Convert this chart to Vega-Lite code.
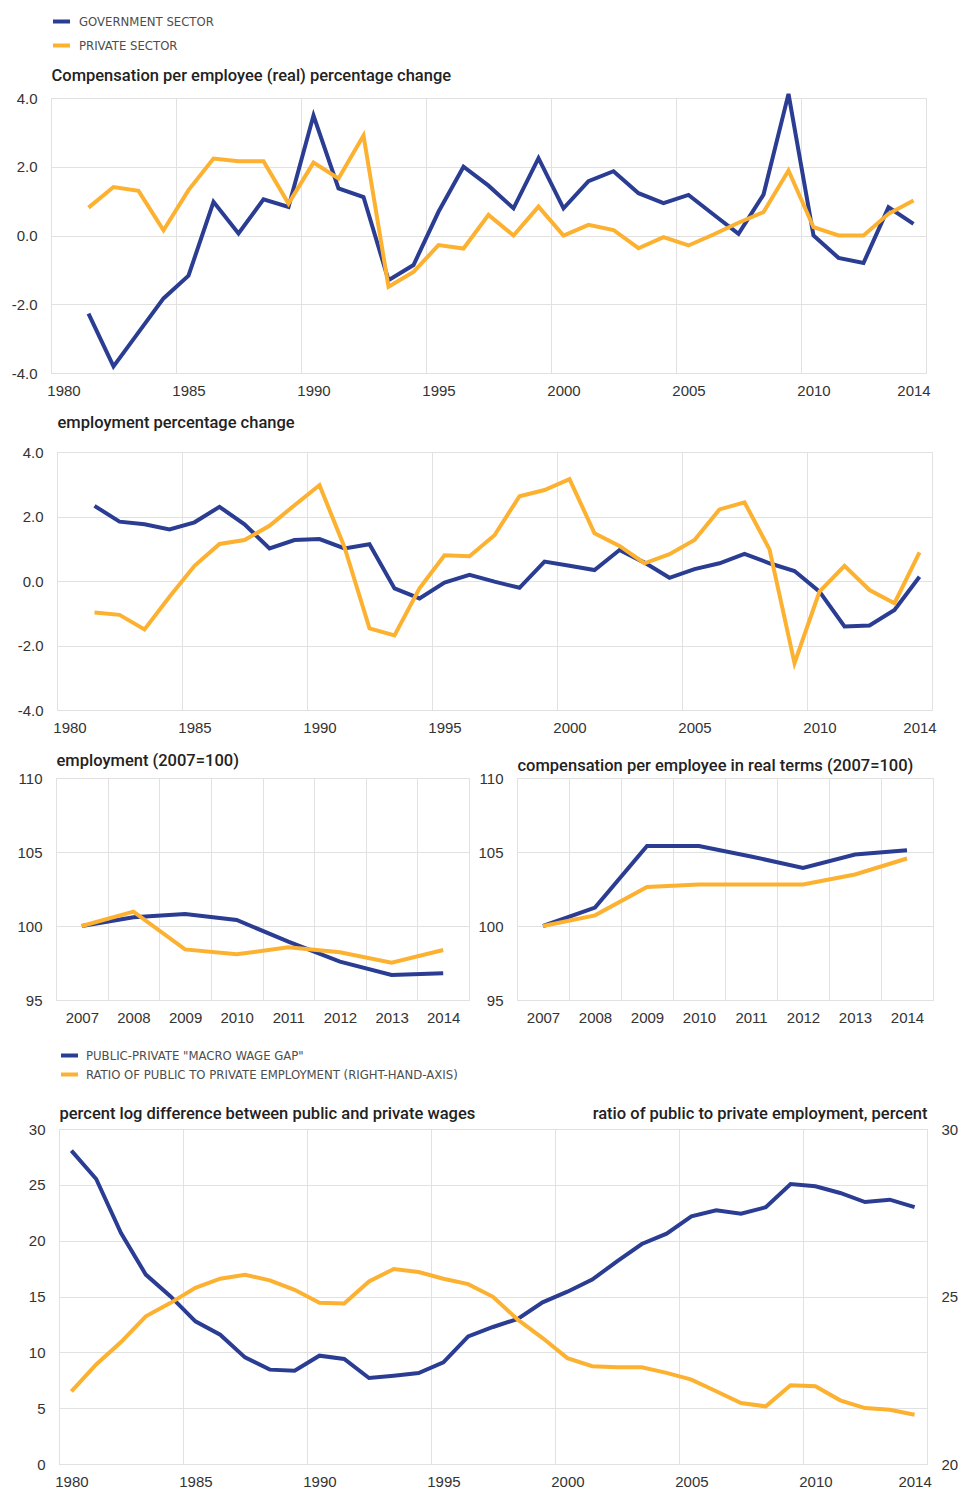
{
  "$schema": "https://vega.github.io/schema/vega-lite/v6.json",
  "padding": {"left": 10, "top": 10, "right": 4, "bottom": 0},
  "autosize": {"type": "pad"},
  "bounds": "flush",
  "spacing": 79,
  "resolve": {"scale": {"color": "independent"}, "legend": {"color": "independent"}},
  "config": {
    "view": {"stroke": "#e1e1e1", "strokeWidth": 1},
    "axis": {
      "domain": false, "ticks": false, "tickSize": 0,
      "gridColor": "#e1e1e1", "gridWidth": 1,
      "labelFont": "Liberation Sans", "labelFontSize": 15, "labelColor": "#333333",
      "labelPadding": 14, "labelFlush": false, "labelOverlap": false,
      "titleFont": "Roboto", "titleFontSize": 16.5, "titleFontWeight": 500, "titleColor": "#222222",
      "titleAngle": 0, "titleAlign": "left", "titleBaseline": "alphabetic", "titleX": 0
    },
    "axisX": {"labelPadding": 10},
    "line": {"strokeWidth": 4}
  },
  "datasets": {
    "comp": [
      {"year": 1981, "sector": "GOVERNMENT SECTOR", "value": -2.27},
      {"year": 1982, "sector": "GOVERNMENT SECTOR", "value": -3.81},
      {"year": 1983, "sector": "GOVERNMENT SECTOR", "value": -2.82},
      {"year": 1984, "sector": "GOVERNMENT SECTOR", "value": -1.83},
      {"year": 1985, "sector": "GOVERNMENT SECTOR", "value": -1.17},
      {"year": 1986, "sector": "GOVERNMENT SECTOR", "value": 0.98},
      {"year": 1987, "sector": "GOVERNMENT SECTOR", "value": 0.06},
      {"year": 1988, "sector": "GOVERNMENT SECTOR", "value": 1.05},
      {"year": 1989, "sector": "GOVERNMENT SECTOR", "value": 0.83},
      {"year": 1990, "sector": "GOVERNMENT SECTOR", "value": 3.49},
      {"year": 1991, "sector": "GOVERNMENT SECTOR", "value": 1.37},
      {"year": 1992, "sector": "GOVERNMENT SECTOR", "value": 1.12},
      {"year": 1993, "sector": "GOVERNMENT SECTOR", "value": -1.3},
      {"year": 1994, "sector": "GOVERNMENT SECTOR", "value": -0.86},
      {"year": 1995, "sector": "GOVERNMENT SECTOR", "value": 0.69},
      {"year": 1996, "sector": "GOVERNMENT SECTOR", "value": 2.0},
      {"year": 1997, "sector": "GOVERNMENT SECTOR", "value": 1.45},
      {"year": 1998, "sector": "GOVERNMENT SECTOR", "value": 0.79},
      {"year": 1999, "sector": "GOVERNMENT SECTOR", "value": 2.25},
      {"year": 2000, "sector": "GOVERNMENT SECTOR", "value": 0.79},
      {"year": 2001, "sector": "GOVERNMENT SECTOR", "value": 1.58},
      {"year": 2002, "sector": "GOVERNMENT SECTOR", "value": 1.87},
      {"year": 2003, "sector": "GOVERNMENT SECTOR", "value": 1.23},
      {"year": 2004, "sector": "GOVERNMENT SECTOR", "value": 0.94},
      {"year": 2005, "sector": "GOVERNMENT SECTOR", "value": 1.18},
      {"year": 2006, "sector": "GOVERNMENT SECTOR", "value": 0.61},
      {"year": 2007, "sector": "GOVERNMENT SECTOR", "value": 0.05},
      {"year": 2008, "sector": "GOVERNMENT SECTOR", "value": 1.19},
      {"year": 2009, "sector": "GOVERNMENT SECTOR", "value": 4.12},
      {"year": 2010, "sector": "GOVERNMENT SECTOR", "value": 0.0},
      {"year": 2011, "sector": "GOVERNMENT SECTOR", "value": -0.65},
      {"year": 2012, "sector": "GOVERNMENT SECTOR", "value": -0.8},
      {"year": 2013, "sector": "GOVERNMENT SECTOR", "value": 0.82},
      {"year": 2014, "sector": "GOVERNMENT SECTOR", "value": 0.34},
      {"year": 1981, "sector": "PRIVATE SECTOR", "value": 0.81},
      {"year": 1982, "sector": "PRIVATE SECTOR", "value": 1.41},
      {"year": 1983, "sector": "PRIVATE SECTOR", "value": 1.3},
      {"year": 1984, "sector": "PRIVATE SECTOR", "value": 0.15},
      {"year": 1985, "sector": "PRIVATE SECTOR", "value": 1.32},
      {"year": 1986, "sector": "PRIVATE SECTOR", "value": 2.24},
      {"year": 1987, "sector": "PRIVATE SECTOR", "value": 2.16},
      {"year": 1988, "sector": "PRIVATE SECTOR", "value": 2.16},
      {"year": 1989, "sector": "PRIVATE SECTOR", "value": 0.93},
      {"year": 1990, "sector": "PRIVATE SECTOR", "value": 2.12},
      {"year": 1991, "sector": "PRIVATE SECTOR", "value": 1.66},
      {"year": 1992, "sector": "PRIVATE SECTOR", "value": 2.91},
      {"year": 1993, "sector": "PRIVATE SECTOR", "value": -1.49},
      {"year": 1994, "sector": "PRIVATE SECTOR", "value": -1.06},
      {"year": 1995, "sector": "PRIVATE SECTOR", "value": -0.28},
      {"year": 1996, "sector": "PRIVATE SECTOR", "value": -0.38},
      {"year": 1997, "sector": "PRIVATE SECTOR", "value": 0.6},
      {"year": 1998, "sector": "PRIVATE SECTOR", "value": 0.0},
      {"year": 1999, "sector": "PRIVATE SECTOR", "value": 0.84},
      {"year": 2000, "sector": "PRIVATE SECTOR", "value": 0.0},
      {"year": 2001, "sector": "PRIVATE SECTOR", "value": 0.31},
      {"year": 2002, "sector": "PRIVATE SECTOR", "value": 0.16},
      {"year": 2003, "sector": "PRIVATE SECTOR", "value": -0.37},
      {"year": 2004, "sector": "PRIVATE SECTOR", "value": -0.05},
      {"year": 2005, "sector": "PRIVATE SECTOR", "value": -0.29},
      {"year": 2006, "sector": "PRIVATE SECTOR", "value": 0.03},
      {"year": 2007, "sector": "PRIVATE SECTOR", "value": 0.37},
      {"year": 2008, "sector": "PRIVATE SECTOR", "value": 0.68},
      {"year": 2009, "sector": "PRIVATE SECTOR", "value": 1.89},
      {"year": 2010, "sector": "PRIVATE SECTOR", "value": 0.24},
      {"year": 2011, "sector": "PRIVATE SECTOR", "value": 0.0},
      {"year": 2012, "sector": "PRIVATE SECTOR", "value": 0.0},
      {"year": 2013, "sector": "PRIVATE SECTOR", "value": 0.63},
      {"year": 2014, "sector": "PRIVATE SECTOR", "value": 1.02}
    ],
    "emp": [
      {"year": 1981, "sector": "GOVERNMENT SECTOR", "value": 2.33},
      {"year": 1982, "sector": "GOVERNMENT SECTOR", "value": 1.84},
      {"year": 1983, "sector": "GOVERNMENT SECTOR", "value": 1.76},
      {"year": 1984, "sector": "GOVERNMENT SECTOR", "value": 1.6},
      {"year": 1985, "sector": "GOVERNMENT SECTOR", "value": 1.82},
      {"year": 1986, "sector": "GOVERNMENT SECTOR", "value": 2.3},
      {"year": 1987, "sector": "GOVERNMENT SECTOR", "value": 1.76},
      {"year": 1988, "sector": "GOVERNMENT SECTOR", "value": 1.01},
      {"year": 1989, "sector": "GOVERNMENT SECTOR", "value": 1.27},
      {"year": 1990, "sector": "GOVERNMENT SECTOR", "value": 1.3},
      {"year": 1991, "sector": "GOVERNMENT SECTOR", "value": 1.01},
      {"year": 1992, "sector": "GOVERNMENT SECTOR", "value": 1.14},
      {"year": 1993, "sector": "GOVERNMENT SECTOR", "value": -0.23},
      {"year": 1994, "sector": "GOVERNMENT SECTOR", "value": -0.54},
      {"year": 1995, "sector": "GOVERNMENT SECTOR", "value": -0.05},
      {"year": 1996, "sector": "GOVERNMENT SECTOR", "value": 0.19},
      {"year": 1997, "sector": "GOVERNMENT SECTOR", "value": -0.02},
      {"year": 1998, "sector": "GOVERNMENT SECTOR", "value": -0.21},
      {"year": 1999, "sector": "GOVERNMENT SECTOR", "value": 0.6},
      {"year": 2000, "sector": "GOVERNMENT SECTOR", "value": 0.47},
      {"year": 2001, "sector": "GOVERNMENT SECTOR", "value": 0.34},
      {"year": 2002, "sector": "GOVERNMENT SECTOR", "value": 0.96},
      {"year": 2003, "sector": "GOVERNMENT SECTOR", "value": 0.57},
      {"year": 2004, "sector": "GOVERNMENT SECTOR", "value": 0.1},
      {"year": 2005, "sector": "GOVERNMENT SECTOR", "value": 0.37},
      {"year": 2006, "sector": "GOVERNMENT SECTOR", "value": 0.55},
      {"year": 2007, "sector": "GOVERNMENT SECTOR", "value": 0.84},
      {"year": 2008, "sector": "GOVERNMENT SECTOR", "value": 0.55},
      {"year": 2009, "sector": "GOVERNMENT SECTOR", "value": 0.31},
      {"year": 2010, "sector": "GOVERNMENT SECTOR", "value": -0.33},
      {"year": 2011, "sector": "GOVERNMENT SECTOR", "value": -1.41},
      {"year": 2012, "sector": "GOVERNMENT SECTOR", "value": -1.38},
      {"year": 2013, "sector": "GOVERNMENT SECTOR", "value": -0.9},
      {"year": 2014, "sector": "GOVERNMENT SECTOR", "value": 0.13},
      {"year": 1981, "sector": "PRIVATE SECTOR", "value": -0.98},
      {"year": 1982, "sector": "PRIVATE SECTOR", "value": -1.05},
      {"year": 1983, "sector": "PRIVATE SECTOR", "value": -1.5},
      {"year": 1984, "sector": "PRIVATE SECTOR", "value": -0.49},
      {"year": 1985, "sector": "PRIVATE SECTOR", "value": 0.47},
      {"year": 1986, "sector": "PRIVATE SECTOR", "value": 1.15},
      {"year": 1987, "sector": "PRIVATE SECTOR", "value": 1.27},
      {"year": 1988, "sector": "PRIVATE SECTOR", "value": 1.71},
      {"year": 1989, "sector": "PRIVATE SECTOR", "value": 2.35},
      {"year": 1990, "sector": "PRIVATE SECTOR", "value": 2.97},
      {"year": 1991, "sector": "PRIVATE SECTOR", "value": 1.05},
      {"year": 1992, "sector": "PRIVATE SECTOR", "value": -1.47},
      {"year": 1993, "sector": "PRIVATE SECTOR", "value": -1.69},
      {"year": 1994, "sector": "PRIVATE SECTOR", "value": -0.23},
      {"year": 1995, "sector": "PRIVATE SECTOR", "value": 0.8},
      {"year": 1996, "sector": "PRIVATE SECTOR", "value": 0.77},
      {"year": 1997, "sector": "PRIVATE SECTOR", "value": 1.42},
      {"year": 1998, "sector": "PRIVATE SECTOR", "value": 2.63},
      {"year": 1999, "sector": "PRIVATE SECTOR", "value": 2.82},
      {"year": 2000, "sector": "PRIVATE SECTOR", "value": 3.16},
      {"year": 2001, "sector": "PRIVATE SECTOR", "value": 1.48},
      {"year": 2002, "sector": "PRIVATE SECTOR", "value": 1.09},
      {"year": 2003, "sector": "PRIVATE SECTOR", "value": 0.55},
      {"year": 2004, "sector": "PRIVATE SECTOR", "value": 0.83},
      {"year": 2005, "sector": "PRIVATE SECTOR", "value": 1.27},
      {"year": 2006, "sector": "PRIVATE SECTOR", "value": 2.22},
      {"year": 2007, "sector": "PRIVATE SECTOR", "value": 2.44},
      {"year": 2008, "sector": "PRIVATE SECTOR", "value": 0.98},
      {"year": 2009, "sector": "PRIVATE SECTOR", "value": -2.55},
      {"year": 2010, "sector": "PRIVATE SECTOR", "value": -0.33},
      {"year": 2011, "sector": "PRIVATE SECTOR", "value": 0.47},
      {"year": 2012, "sector": "PRIVATE SECTOR", "value": -0.28},
      {"year": 2013, "sector": "PRIVATE SECTOR", "value": -0.69},
      {"year": 2014, "sector": "PRIVATE SECTOR", "value": 0.89}
    ],
    "emp07": [
      {"year": 2007, "sector": "GOVERNMENT SECTOR", "value": 100.0},
      {"year": 2008, "sector": "GOVERNMENT SECTOR", "value": 100.59},
      {"year": 2009, "sector": "GOVERNMENT SECTOR", "value": 100.81},
      {"year": 2010, "sector": "GOVERNMENT SECTOR", "value": 100.41},
      {"year": 2011, "sector": "GOVERNMENT SECTOR", "value": 98.94},
      {"year": 2012, "sector": "GOVERNMENT SECTOR", "value": 97.59},
      {"year": 2013, "sector": "GOVERNMENT SECTOR", "value": 96.69},
      {"year": 2014, "sector": "GOVERNMENT SECTOR", "value": 96.8},
      {"year": 2007, "sector": "PRIVATE SECTOR", "value": 100.0},
      {"year": 2008, "sector": "PRIVATE SECTOR", "value": 100.97},
      {"year": 2009, "sector": "PRIVATE SECTOR", "value": 98.42},
      {"year": 2010, "sector": "PRIVATE SECTOR", "value": 98.09},
      {"year": 2011, "sector": "PRIVATE SECTOR", "value": 98.56},
      {"year": 2012, "sector": "PRIVATE SECTOR", "value": 98.22},
      {"year": 2013, "sector": "PRIVATE SECTOR", "value": 97.52},
      {"year": 2014, "sector": "PRIVATE SECTOR", "value": 98.38}
    ],
    "comp07": [
      {"year": 2007, "sector": "GOVERNMENT SECTOR", "value": 100.0},
      {"year": 2008, "sector": "GOVERNMENT SECTOR", "value": 101.24},
      {"year": 2009, "sector": "GOVERNMENT SECTOR", "value": 105.4},
      {"year": 2010, "sector": "GOVERNMENT SECTOR", "value": 105.4},
      {"year": 2011, "sector": "GOVERNMENT SECTOR", "value": 104.7},
      {"year": 2012, "sector": "GOVERNMENT SECTOR", "value": 103.93},
      {"year": 2013, "sector": "GOVERNMENT SECTOR", "value": 104.83},
      {"year": 2014, "sector": "GOVERNMENT SECTOR", "value": 105.12},
      {"year": 2007, "sector": "PRIVATE SECTOR", "value": 100.0},
      {"year": 2008, "sector": "PRIVATE SECTOR", "value": 100.72},
      {"year": 2009, "sector": "PRIVATE SECTOR", "value": 102.63},
      {"year": 2010, "sector": "PRIVATE SECTOR", "value": 102.81},
      {"year": 2011, "sector": "PRIVATE SECTOR", "value": 102.81},
      {"year": 2012, "sector": "PRIVATE SECTOR", "value": 102.81},
      {"year": 2013, "sector": "PRIVATE SECTOR", "value": 103.48},
      {"year": 2014, "sector": "PRIVATE SECTOR", "value": 104.56}
    ],
    "wagegap": [
      {"year": 1980, "series": "PUBLIC-PRIVATE \"MACRO WAGE GAP\"", "value": 28.06},
      {"year": 1981, "series": "PUBLIC-PRIVATE \"MACRO WAGE GAP\"", "value": 25.52},
      {"year": 1982, "series": "PUBLIC-PRIVATE \"MACRO WAGE GAP\"", "value": 20.69},
      {"year": 1983, "series": "PUBLIC-PRIVATE \"MACRO WAGE GAP\"", "value": 16.96},
      {"year": 1984, "series": "PUBLIC-PRIVATE \"MACRO WAGE GAP\"", "value": 15.01},
      {"year": 1985, "series": "PUBLIC-PRIVATE \"MACRO WAGE GAP\"", "value": 12.78},
      {"year": 1986, "series": "PUBLIC-PRIVATE \"MACRO WAGE GAP\"", "value": 11.58},
      {"year": 1987, "series": "PUBLIC-PRIVATE \"MACRO WAGE GAP\"", "value": 9.55},
      {"year": 1988, "series": "PUBLIC-PRIVATE \"MACRO WAGE GAP\"", "value": 8.45},
      {"year": 1989, "series": "PUBLIC-PRIVATE \"MACRO WAGE GAP\"", "value": 8.36},
      {"year": 1990, "series": "PUBLIC-PRIVATE \"MACRO WAGE GAP\"", "value": 9.7},
      {"year": 1991, "series": "PUBLIC-PRIVATE \"MACRO WAGE GAP\"", "value": 9.4},
      {"year": 1992, "series": "PUBLIC-PRIVATE \"MACRO WAGE GAP\"", "value": 7.7},
      {"year": 1993, "series": "PUBLIC-PRIVATE \"MACRO WAGE GAP\"", "value": 7.91},
      {"year": 1994, "series": "PUBLIC-PRIVATE \"MACRO WAGE GAP\"", "value": 8.15},
      {"year": 1995, "series": "PUBLIC-PRIVATE \"MACRO WAGE GAP\"", "value": 9.1},
      {"year": 1996, "series": "PUBLIC-PRIVATE \"MACRO WAGE GAP\"", "value": 11.43},
      {"year": 1997, "series": "PUBLIC-PRIVATE \"MACRO WAGE GAP\"", "value": 12.27},
      {"year": 1998, "series": "PUBLIC-PRIVATE \"MACRO WAGE GAP\"", "value": 12.99},
      {"year": 1999, "series": "PUBLIC-PRIVATE \"MACRO WAGE GAP\"", "value": 14.48},
      {"year": 2000, "series": "PUBLIC-PRIVATE \"MACRO WAGE GAP\"", "value": 15.43},
      {"year": 2001, "series": "PUBLIC-PRIVATE \"MACRO WAGE GAP\"", "value": 16.51},
      {"year": 2002, "series": "PUBLIC-PRIVATE \"MACRO WAGE GAP\"", "value": 18.15},
      {"year": 2003, "series": "PUBLIC-PRIVATE \"MACRO WAGE GAP\"", "value": 19.7},
      {"year": 2004, "series": "PUBLIC-PRIVATE \"MACRO WAGE GAP\"", "value": 20.63},
      {"year": 2005, "series": "PUBLIC-PRIVATE \"MACRO WAGE GAP\"", "value": 22.18},
      {"year": 2006, "series": "PUBLIC-PRIVATE \"MACRO WAGE GAP\"", "value": 22.72},
      {"year": 2007, "series": "PUBLIC-PRIVATE \"MACRO WAGE GAP\"", "value": 22.42},
      {"year": 2008, "series": "PUBLIC-PRIVATE \"MACRO WAGE GAP\"", "value": 22.99},
      {"year": 2009, "series": "PUBLIC-PRIVATE \"MACRO WAGE GAP\"", "value": 25.07},
      {"year": 2010, "series": "PUBLIC-PRIVATE \"MACRO WAGE GAP\"", "value": 24.87},
      {"year": 2011, "series": "PUBLIC-PRIVATE \"MACRO WAGE GAP\"", "value": 24.27},
      {"year": 2012, "series": "PUBLIC-PRIVATE \"MACRO WAGE GAP\"", "value": 23.46},
      {"year": 2013, "series": "PUBLIC-PRIVATE \"MACRO WAGE GAP\"", "value": 23.67},
      {"year": 2014, "series": "PUBLIC-PRIVATE \"MACRO WAGE GAP\"", "value": 23.01}
    ],
    "ratio": [
      {"year": 1980, "series": "RATIO OF PUBLIC TO PRIVATE EMPLOYMENT (RIGHT-HAND-AXIS)", "value": 22.17},
      {"year": 1981, "series": "RATIO OF PUBLIC TO PRIVATE EMPLOYMENT (RIGHT-HAND-AXIS)", "value": 22.97},
      {"year": 1982, "series": "RATIO OF PUBLIC TO PRIVATE EMPLOYMENT (RIGHT-HAND-AXIS)", "value": 23.64},
      {"year": 1983, "series": "RATIO OF PUBLIC TO PRIVATE EMPLOYMENT (RIGHT-HAND-AXIS)", "value": 24.41},
      {"year": 1984, "series": "RATIO OF PUBLIC TO PRIVATE EMPLOYMENT (RIGHT-HAND-AXIS)", "value": 24.81},
      {"year": 1985, "series": "RATIO OF PUBLIC TO PRIVATE EMPLOYMENT (RIGHT-HAND-AXIS)", "value": 25.26},
      {"year": 1986, "series": "RATIO OF PUBLIC TO PRIVATE EMPLOYMENT (RIGHT-HAND-AXIS)", "value": 25.53},
      {"year": 1987, "series": "RATIO OF PUBLIC TO PRIVATE EMPLOYMENT (RIGHT-HAND-AXIS)", "value": 25.65},
      {"year": 1988, "series": "RATIO OF PUBLIC TO PRIVATE EMPLOYMENT (RIGHT-HAND-AXIS)", "value": 25.48},
      {"year": 1989, "series": "RATIO OF PUBLIC TO PRIVATE EMPLOYMENT (RIGHT-HAND-AXIS)", "value": 25.2},
      {"year": 1990, "series": "RATIO OF PUBLIC TO PRIVATE EMPLOYMENT (RIGHT-HAND-AXIS)", "value": 24.81},
      {"year": 1991, "series": "RATIO OF PUBLIC TO PRIVATE EMPLOYMENT (RIGHT-HAND-AXIS)", "value": 24.79},
      {"year": 1992, "series": "RATIO OF PUBLIC TO PRIVATE EMPLOYMENT (RIGHT-HAND-AXIS)", "value": 25.45},
      {"year": 1993, "series": "RATIO OF PUBLIC TO PRIVATE EMPLOYMENT (RIGHT-HAND-AXIS)", "value": 25.82},
      {"year": 1994, "series": "RATIO OF PUBLIC TO PRIVATE EMPLOYMENT (RIGHT-HAND-AXIS)", "value": 25.73},
      {"year": 1995, "series": "RATIO OF PUBLIC TO PRIVATE EMPLOYMENT (RIGHT-HAND-AXIS)", "value": 25.53},
      {"year": 1996, "series": "RATIO OF PUBLIC TO PRIVATE EMPLOYMENT (RIGHT-HAND-AXIS)", "value": 25.37},
      {"year": 1997, "series": "RATIO OF PUBLIC TO PRIVATE EMPLOYMENT (RIGHT-HAND-AXIS)", "value": 24.99},
      {"year": 1998, "series": "RATIO OF PUBLIC TO PRIVATE EMPLOYMENT (RIGHT-HAND-AXIS)", "value": 24.31},
      {"year": 1999, "series": "RATIO OF PUBLIC TO PRIVATE EMPLOYMENT (RIGHT-HAND-AXIS)", "value": 23.76},
      {"year": 2000, "series": "RATIO OF PUBLIC TO PRIVATE EMPLOYMENT (RIGHT-HAND-AXIS)", "value": 23.16},
      {"year": 2001, "series": "RATIO OF PUBLIC TO PRIVATE EMPLOYMENT (RIGHT-HAND-AXIS)", "value": 22.92},
      {"year": 2002, "series": "RATIO OF PUBLIC TO PRIVATE EMPLOYMENT (RIGHT-HAND-AXIS)", "value": 22.89},
      {"year": 2003, "series": "RATIO OF PUBLIC TO PRIVATE EMPLOYMENT (RIGHT-HAND-AXIS)", "value": 22.89},
      {"year": 2004, "series": "RATIO OF PUBLIC TO PRIVATE EMPLOYMENT (RIGHT-HAND-AXIS)", "value": 22.72},
      {"year": 2005, "series": "RATIO OF PUBLIC TO PRIVATE EMPLOYMENT (RIGHT-HAND-AXIS)", "value": 22.52},
      {"year": 2006, "series": "RATIO OF PUBLIC TO PRIVATE EMPLOYMENT (RIGHT-HAND-AXIS)", "value": 22.17},
      {"year": 2007, "series": "RATIO OF PUBLIC TO PRIVATE EMPLOYMENT (RIGHT-HAND-AXIS)", "value": 21.82},
      {"year": 2008, "series": "RATIO OF PUBLIC TO PRIVATE EMPLOYMENT (RIGHT-HAND-AXIS)", "value": 21.72},
      {"year": 2009, "series": "RATIO OF PUBLIC TO PRIVATE EMPLOYMENT (RIGHT-HAND-AXIS)", "value": 22.35},
      {"year": 2010, "series": "RATIO OF PUBLIC TO PRIVATE EMPLOYMENT (RIGHT-HAND-AXIS)", "value": 22.32},
      {"year": 2011, "series": "RATIO OF PUBLIC TO PRIVATE EMPLOYMENT (RIGHT-HAND-AXIS)", "value": 21.9},
      {"year": 2012, "series": "RATIO OF PUBLIC TO PRIVATE EMPLOYMENT (RIGHT-HAND-AXIS)", "value": 21.67},
      {"year": 2013, "series": "RATIO OF PUBLIC TO PRIVATE EMPLOYMENT (RIGHT-HAND-AXIS)", "value": 21.62},
      {"year": 2014, "series": "RATIO OF PUBLIC TO PRIVATE EMPLOYMENT (RIGHT-HAND-AXIS)", "value": 21.47}
    ]
  },
  "vconcat": [
    {
      "width": 875, "height": 275,
      "data": {"name": "comp"},
      "mark": {"type": "line", "strokeWidth": 4},
      "encoding": {
        "x": {"field": "year", "type": "quantitative",
          "scale": {"domain": [1979.5, 2014.5], "nice": false, "zero": false},
          "axis": {"title": null, "values": [1980, 1985, 1990, 1995, 2000, 2005, 2010, 2014], "format": "d",
            "tickOffset": -12.5, "labelOffset": 12.5,
            "gridOpacity": {"condition": {"test": "datum.value == 2014", "value": 0}, "value": 1}}},
        "y": {"field": "value", "type": "quantitative",
          "scale": {"domain": [-4, 4], "nice": false},
          "axis": {"title": "Compensation per employee (real) percentage change", "titleX": 0, "titleY": -18,
            "titleAngle": 0, "titleAlign": "left",
            "values": [-4, -2, 0, 2, 4], "labelExpr": "replace(format(datum.value, '.1f'), '−', '-')"}},
        "color": {"field": "sector", "type": "nominal",
          "scale": {"domain": ["GOVERNMENT SECTOR", "PRIVATE SECTOR"], "range": ["#2a3d92", "#fcb131"]},
          "legend": {"orient": "none", "legendX": 0, "legendY": -87, "title": null, "direction": "vertical",
            "symbolType": "stroke", "symbolSize": 289, "symbolStrokeWidth": 4,
            "labelFont": "Liberation Sans Narrow, DejaVu Sans Condensed, Roboto Condensed, Liberation Sans", "labelFontSize": 13, "labelColor": "#4d4d4d",
            "rowPadding": 5, "labelOffset": 7, "padding": 0, "labelLimit": 600}}
      }
    },
    {
      "bounds": "flush",
      "spacing": 326,
      "resolve": {"scale": {"color": "independent"}, "legend": {"color": "independent"}},
      "vconcat": [
        {
          "bounds": "flush",
          "spacing": 0,
          "resolve": {"scale": {"color": "independent"}, "legend": {"color": "independent"}},
          "hconcat": [
            {"width": 6, "height": 1, "data": {"values": []}, "mark": "point", "view": {"stroke": null}},
            {
              "width": 875, "height": 258,
              "data": {"name": "emp"},
              "mark": {"type": "line", "strokeWidth": 4},
              "encoding": {
                "x": {"field": "year", "type": "quantitative",
                  "scale": {"domain": [1979.5, 2014.5], "nice": false, "zero": false},
                  "axis": {"title": null, "values": [1980, 1985, 1990, 1995, 2000, 2005, 2010, 2014], "format": "d",
                    "tickOffset": -12.5, "labelOffset": 12.5,
                    "gridOpacity": {"condition": {"test": "datum.value == 2014", "value": 0}, "value": 1}}},
                "y": {"field": "value", "type": "quantitative",
                  "scale": {"domain": [-4, 4], "nice": false},
                  "axis": {"title": "employment percentage change", "titleX": 0, "titleY": -25,
                    "titleAngle": 0, "titleAlign": "left",
                    "values": [-4, -2, 0, 2, 4], "labelExpr": "replace(format(datum.value, '.1f'), '−', '-')"}},
                "color": {"field": "sector", "type": "nominal",
                  "scale": {"domain": ["GOVERNMENT SECTOR", "PRIVATE SECTOR"], "range": ["#2a3d92", "#fcb131"]},
                  "legend": null}
              }
            }
          ]
        },
        {
          "bounds": "flush",
          "spacing": 351,
          "resolve": {"scale": {"color": "independent"}, "legend": {"color": "independent"}},
          "vconcat": [
            {
              "bounds": "flush",
              "spacing": 0,
              "resolve": {"scale": {"color": "independent"}, "legend": {"color": "independent"}},
              "hconcat": [
                {"width": 5, "height": 1, "data": {"values": []}, "mark": "point", "view": {"stroke": null}},
                {
                  "width": 413, "height": 222,
                  "data": {"name": "emp07"},
                  "mark": {"type": "line", "strokeWidth": 4},
                  "encoding": {
                    "x": {"field": "year", "type": "quantitative",
                      "scale": {"domain": [2006.5, 2014.5], "nice": false, "zero": false},
                      "axis": {"title": null, "values": [2007, 2008, 2009, 2010, 2011, 2012, 2013, 2014], "format": "d",
                        "tickOffset": -25.8, "labelOffset": 25.8}},
                    "y": {"field": "value", "type": "quantitative",
                      "scale": {"domain": [95, 110], "nice": false, "zero": false},
                      "axis": {"title": "employment (2007=100)", "titleX": 0, "titleY": -13,
                        "titleAngle": 0, "titleAlign": "left",
                        "values": [95, 100, 105, 110], "format": "d"}},
                    "color": {"field": "sector", "type": "nominal",
                      "scale": {"domain": ["GOVERNMENT SECTOR", "PRIVATE SECTOR"], "range": ["#2a3d92", "#fcb131"]},
                      "legend": null}
                  }
                },
                {"width": 48, "height": 1, "data": {"values": []}, "mark": "point", "view": {"stroke": null}},
                {
                  "width": 416, "height": 222,
                  "data": {"name": "comp07"},
                  "mark": {"type": "line", "strokeWidth": 4},
                  "encoding": {
                    "x": {"field": "year", "type": "quantitative",
                      "scale": {"domain": [2006.5, 2014.5], "nice": false, "zero": false},
                      "axis": {"title": null, "values": [2007, 2008, 2009, 2010, 2011, 2012, 2013, 2014], "format": "d",
                        "tickOffset": -26, "labelOffset": 26}},
                    "y": {"field": "value", "type": "quantitative",
                      "scale": {"domain": [95, 110], "nice": false, "zero": false},
                      "axis": {"title": "compensation per employee in real terms (2007=100)", "titleX": 0, "titleY": -8,
                        "titleAngle": 0, "titleAlign": "left",
                        "values": [95, 100, 105, 110], "format": "d"}},
                    "color": {"field": "sector", "type": "nominal",
                      "scale": {"domain": ["GOVERNMENT SECTOR", "PRIVATE SECTOR"], "range": ["#2a3d92", "#fcb131"]},
                      "legend": null}
                  }
                }
              ]
            },
            {
              "bounds": "flush",
              "spacing": 0,
              "resolve": {"scale": {"color": "independent"}, "legend": {"color": "independent"}},
              "hconcat": [
                {"width": 8, "height": 1, "data": {"values": []}, "mark": "point", "view": {"stroke": null}},
                {
                  "width": 868, "height": 335,
                  "resolve": {"scale": {"y": "independent"}},
                  "layer": [
                    {
                      "data": {"name": "wagegap"},
                      "mark": {"type": "line", "strokeWidth": 4},
                      "encoding": {
                        "x": {"field": "year", "type": "quantitative",
                          "scale": {"domain": [1979.5, 2014.5], "nice": false, "zero": false},
                          "axis": {"title": null, "values": [1980, 1985, 1990, 1995, 2000, 2005, 2010, 2014], "format": "d",
                            "tickOffset": -12.4, "labelOffset": 12.4,
                            "gridOpacity": {"condition": {"test": "datum.value == 2014", "value": 0}, "value": 1}}},
                        "y": {"field": "value", "type": "quantitative",
                          "scale": {"domain": [0, 30], "nice": false},
                          "axis": {"title": "percent log difference between public and private wages", "titleX": 0, "titleY": -11,
                            "titleAngle": 0, "titleAlign": "left",
                            "values": [0, 5, 10, 15, 20, 25, 30], "format": "d"}},
                        "color": {"field": "series", "type": "nominal",
                          "scale": {"domain": ["PUBLIC-PRIVATE \"MACRO WAGE GAP\"", "RATIO OF PUBLIC TO PRIVATE EMPLOYMENT (RIGHT-HAND-AXIS)"], "range": ["#2a3d92", "#fcb131"]},
                          "legend": {"orient": "none", "legendX": 0, "legendY": -84, "title": null, "direction": "vertical",
                            "symbolType": "stroke", "symbolSize": 289, "symbolStrokeWidth": 5.5,
                            "labelFont": "Liberation Sans Narrow, DejaVu Sans Condensed, Roboto Condensed, Liberation Sans", "labelFontSize": 13, "labelColor": "#4d4d4d",
                            "rowPadding": 0, "labelOffset": 6, "padding": 0, "labelLimit": 600}}
                      }
                    },
                    {
                      "data": {"name": "ratio"},
                      "mark": {"type": "line", "strokeWidth": 4},
                      "encoding": {
                        "x": {"field": "year", "type": "quantitative"},
                        "y": {"field": "value", "type": "quantitative",
                          "scale": {"domain": [20, 30], "nice": false, "zero": false},
                          "axis": {"orient": "right", "grid": false, "title": "ratio of public to private employment, percent",
                            "titleX": 0, "titleY": -11, "titleAngle": 0, "titleAlign": "right",
                            "values": [20, 25, 30], "format": "d"}},
                        "color": {"field": "series", "type": "nominal",
                          "scale": {"domain": ["PUBLIC-PRIVATE \"MACRO WAGE GAP\"", "RATIO OF PUBLIC TO PRIVATE EMPLOYMENT (RIGHT-HAND-AXIS)"], "range": ["#2a3d92", "#fcb131"]}}
                      }
                    }
                  ]
                }
              ]
            }
          ]
        }
      ]
    }
  ]
}
